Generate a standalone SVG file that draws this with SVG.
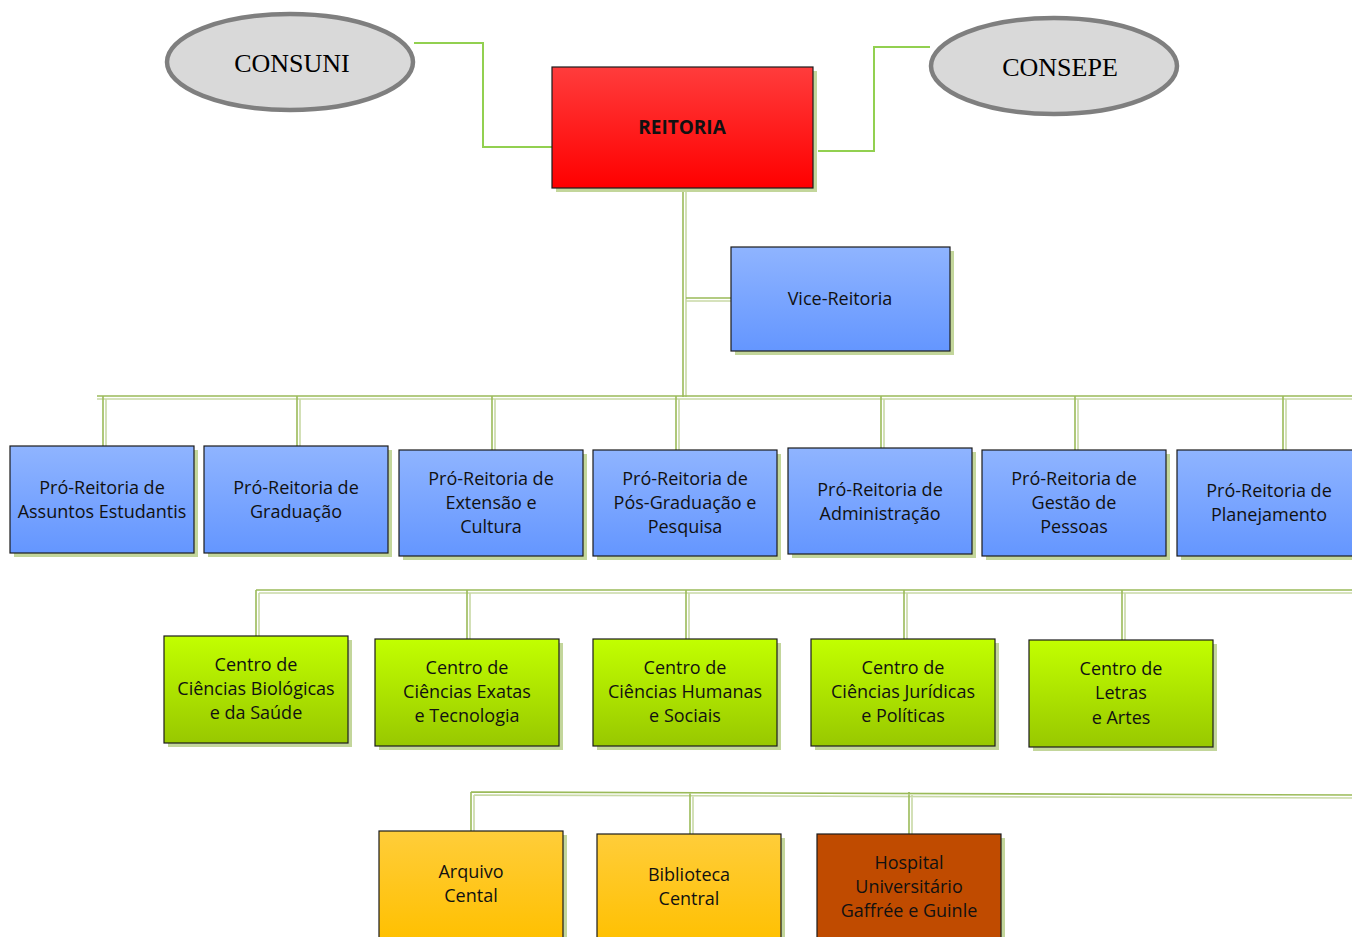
<svg xmlns="http://www.w3.org/2000/svg" width="1352" height="937" viewBox="0 0 1352 937">
<defs>
<linearGradient id="gRed" x1="0" y1="0" x2="0" y2="1"><stop offset="0" stop-color="#ff3c3c"/><stop offset="1" stop-color="#ff0000"/></linearGradient>
<linearGradient id="gBlue" x1="0" y1="0" x2="0" y2="1"><stop offset="0" stop-color="#8fb4ff"/><stop offset="1" stop-color="#6496ff"/></linearGradient>
<linearGradient id="gGreen" x1="0" y1="0" x2="0" y2="1"><stop offset="0" stop-color="#c2ff00"/><stop offset="1" stop-color="#98c800"/></linearGradient>
<linearGradient id="gOrange" x1="0" y1="0" x2="0" y2="1"><stop offset="0" stop-color="#ffcd3a"/><stop offset="1" stop-color="#ffc000"/></linearGradient>
</defs>
<style>
.sh{fill:#c3d69b}
.box{stroke:#1b1b1b;stroke-width:1.2}
.t{font-family:"Open Sans","Noto Sans","Liberation Sans",sans-serif;font-size:18px;fill:#111;text-anchor:middle}
.tb{font-family:"Open Sans","Noto Sans","Liberation Sans",sans-serif;font-size:19px;font-weight:bold;fill:#111;text-anchor:middle}
.ts{font-family:"Liberation Serif","Times New Roman",serif;font-size:26px;fill:#000;text-anchor:middle}
.ell{fill:#d9d9d9;stroke:#7f7f7f;stroke-width:4.5}
.cg{fill:none;stroke:#92d050;stroke-width:2}
.cd{fill:none;stroke:#9bbb59;stroke-width:1.6}
.cl{fill:none;stroke:#c9d9a6;stroke-width:1.6}
</style>
<g id="connectors">
<path class="cg" d="M414,43 H483 V147 H552"/>
<path class="cg" d="M818,151 H874 V47 H930"/>
<path class="cl" d="M686,188 V397 M686,301 H731"/>
<path class="cd" d="M683,188 V397 M686,298 H731"/>
<path class="cl" d="M97,399 H1352 M106,399 V446 M300,399 V446 M495,399 V450 M679,399 V450 M884,399 V448 M1078,399 V450 M1286,399 V450"/>
<path class="cd" d="M97,396 H1352 M103,396 V446 M297,396 V446 M492,396 V450 M676,396 V450 M881,396 V448 M1075,396 V450 M1283,396 V450"/>
<path class="cl" d="M259,593 H1352 M259,593 V636 M470,593 V639 M689,593 V639 M907,593 V639 M1125,593 V640"/>
<path class="cd" d="M256,590 H1352 M256,590 V636 M467,590 V639 M686,590 V639 M904,590 V639 M1122,590 V640"/>
<path class="cl" d="M474,795 L1352,798 M474,795 V831 M693,795 V834 M912,795 V834"/>
<path class="cd" d="M471,792 L1352,795 M471,792 V831 M690,792 V834 M909,792 V834"/>
</g>
<g id="consuni"><ellipse class="ell" cx="290" cy="62" rx="123" ry="48"/><text class="ts" x="292" y="72">CONSUNI</text></g>
<g id="consepe"><ellipse class="ell" cx="1054" cy="66" rx="123" ry="48"/><text class="ts" x="1060" y="76">CONSEPE</text></g>
<g id="reitoria"><rect class="sh" x="556" y="71" width="261" height="121"/><rect class="box" x="552" y="67" width="261" height="121" fill="url(#gRed)"/><text class="tb" x="682" y="134">REITORIA</text></g>
<g id="vice"><rect class="sh" x="735" y="251" width="219" height="104"/><rect class="box" x="731" y="247" width="219" height="104" fill="url(#gBlue)"/><text class="t" x="840" y="305">Vice-Reitoria</text></g>
<g id="pr1"><rect class="sh" x="14" y="450" width="184" height="107"/><rect class="box" x="10" y="446" width="184" height="107" fill="url(#gBlue)"/><text class="t" x="102" y="494">Pró-Reitoria de</text><text class="t" x="102" y="518">Assuntos Estudantis</text></g>
<g id="pr2"><rect class="sh" x="208" y="450" width="184" height="107"/><rect class="box" x="204" y="446" width="184" height="107" fill="url(#gBlue)"/><text class="t" x="296" y="494">Pró-Reitoria de</text><text class="t" x="296" y="518">Graduação</text></g>
<g id="pr3"><rect class="sh" x="403" y="454" width="184" height="106"/><rect class="box" x="399" y="450" width="184" height="106" fill="url(#gBlue)"/><text class="t" x="491" y="485">Pró-Reitoria de</text><text class="t" x="491" y="509">Extensão e</text><text class="t" x="491" y="533">Cultura</text></g>
<g id="pr4"><rect class="sh" x="597" y="454" width="184" height="106"/><rect class="box" x="593" y="450" width="184" height="106" fill="url(#gBlue)"/><text class="t" x="685" y="485">Pró-Reitoria de</text><text class="t" x="685" y="509">Pós-Graduação e</text><text class="t" x="685" y="533">Pesquisa</text></g>
<g id="pr5"><rect class="sh" x="792" y="452" width="184" height="106"/><rect class="box" x="788" y="448" width="184" height="106" fill="url(#gBlue)"/><text class="t" x="880" y="496">Pró-Reitoria de</text><text class="t" x="880" y="520">Administração</text></g>
<g id="pr6"><rect class="sh" x="986" y="454" width="184" height="106"/><rect class="box" x="982" y="450" width="184" height="106" fill="url(#gBlue)"/><text class="t" x="1074" y="485">Pró-Reitoria de</text><text class="t" x="1074" y="509">Gestão de</text><text class="t" x="1074" y="533">Pessoas</text></g>
<g id="pr7"><rect class="sh" x="1181" y="454" width="184" height="106"/><rect class="box" x="1177" y="450" width="184" height="106" fill="url(#gBlue)"/><text class="t" x="1269" y="497">Pró-Reitoria de</text><text class="t" x="1269" y="521">Planejamento</text></g>
<g id="c1"><rect class="sh" x="168" y="640" width="184" height="107"/><rect class="box" x="164" y="636" width="184" height="107" fill="url(#gGreen)"/><text class="t" x="256" y="671">Centro de</text><text class="t" x="256" y="695">Ciências Biológicas</text><text class="t" x="256" y="719">e da Saúde</text></g>
<g id="c2"><rect class="sh" x="379" y="643" width="184" height="107"/><rect class="box" x="375" y="639" width="184" height="107" fill="url(#gGreen)"/><text class="t" x="467" y="674">Centro de</text><text class="t" x="467" y="698">Ciências Exatas</text><text class="t" x="467" y="722">e Tecnologia</text></g>
<g id="c3"><rect class="sh" x="597" y="643" width="184" height="107"/><rect class="box" x="593" y="639" width="184" height="107" fill="url(#gGreen)"/><text class="t" x="685" y="674">Centro de</text><text class="t" x="685" y="698">Ciências Humanas</text><text class="t" x="685" y="722">e Sociais</text></g>
<g id="c4"><rect class="sh" x="815" y="643" width="184" height="107"/><rect class="box" x="811" y="639" width="184" height="107" fill="url(#gGreen)"/><text class="t" x="903" y="674">Centro de</text><text class="t" x="903" y="698">Ciências Jurídicas</text><text class="t" x="903" y="722">e Políticas</text></g>
<g id="c5"><rect class="sh" x="1033" y="644" width="184" height="107"/><rect class="box" x="1029" y="640" width="184" height="107" fill="url(#gGreen)"/><text class="t" x="1121" y="675">Centro de</text><text class="t" x="1121" y="699">Letras</text><text class="t" x="1121" y="724">e Artes</text></g>
<g id="arquivo"><rect class="sh" x="383" y="835" width="184" height="110"/><rect class="box" x="379" y="831" width="184" height="110" fill="url(#gOrange)"/><text class="t" x="471" y="878">Arquivo</text><text class="t" x="471" y="902">Cental</text></g>
<g id="biblioteca"><rect class="sh" x="601" y="838" width="184" height="110"/><rect class="box" x="597" y="834" width="184" height="110" fill="url(#gOrange)"/><text class="t" x="689" y="881">Biblioteca</text><text class="t" x="689" y="905">Central</text></g>
<g id="hospital"><rect class="sh" x="821" y="838" width="184" height="110"/><rect class="box" x="817" y="834" width="184" height="110" fill="#c04b00"/><text class="t" x="909" y="869">Hospital</text><text class="t" x="909" y="893">Universitário</text><text class="t" x="909" y="917">Gaffrée e Guinle</text></g>
</svg>
